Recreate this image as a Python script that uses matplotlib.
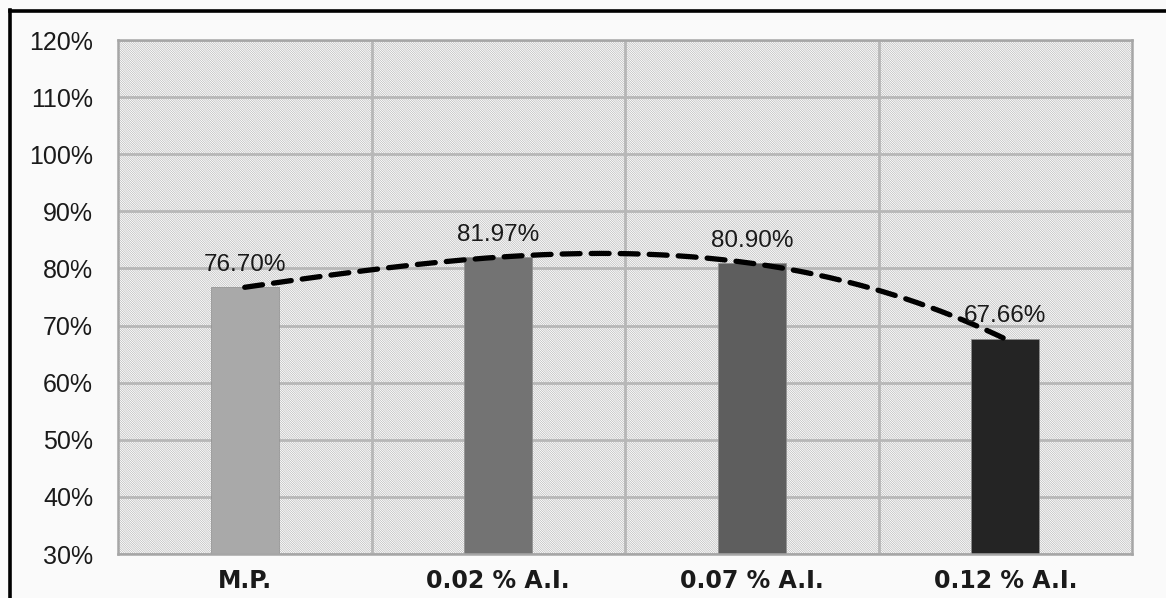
import numpy as np
import matplotlib.pyplot as plt
from matplotlib.patches import Rectangle
from matplotlib.lines import Line2D
from matplotlib.ticker import PercentFormatter

# Данные графика
categories = ["M.P.", "0.02 % A.I.", "0.07 % A.I.", "0.12 % A.I."]
values = [76.70, 81.97, 80.90, 67.66]
value_labels = ["76.70%", "81.97%", "80.90%", "67.66%"]
bar_colors = ["#a9a9a9", "#737373", "#5e5e5e", "#242424"]
y_ticks = [30, 40, 50, 60, 70, 80, 90, 100, 110, 120]

plt.rcParams['font.family'] = ['Liberation Sans', 'DejaVu Sans']
plt.rcParams['hatch.linewidth'] = 0.45

fig = plt.figure(figsize=(11.66, 5.98), dpi=100, facecolor="#fafafa")
ax = fig.add_axes([118 / 1166, 1 - 554 / 598, (1132 - 118) / 1166, (554 - 40) / 598])
ax.set_facecolor("white")

x = np.arange(len(categories))
ax.set_xlim(-0.5, len(categories) - 0.5)
ax.set_ylim(y_ticks[0], y_ticks[-1])

# штриховка фона
bg = Rectangle((0, 0), 1, 1, transform=ax.transAxes, facecolor="white",
               edgecolor="#b4b4b4", linewidth=0, hatch="\\" * 15, zorder=0)
ax.add_patch(bg)

# сетка
ax.set_yticks(y_ticks)
ax.set_xticks(x)
ax.set_xticks(x[:-1] + 0.5, minor=True)
ax.grid(axis="y", which="major", color="#b7b7b7", linewidth=2.0, zorder=1)
ax.grid(axis="x", which="minor", color="#b7b7b7", linewidth=2.0, zorder=1)
ax.set_axisbelow(True)

ax.bar(x, values, width=0.27, color=bar_colors, edgecolor="#8f8f8f",
       linewidth=0.5, zorder=2, bottom=0)

# линия тренда (полином 3-й степени, как в Excel)
coef = np.polyfit(x, values, 3)
xs = np.linspace(x[0], x[-1], 200)
ax.plot(xs, np.polyval(coef, xs), color="black", linewidth=3.8,
        linestyle=(0, (3.4, 2.1)), dash_capstyle="round", zorder=3)

for xi, v, lab in zip(x, values, value_labels):
    ax.annotate(lab, (xi, v), xytext=(0, 12), textcoords="offset points",
                ha="center", va="baseline", fontsize=17.5, color="#1a1a1a", zorder=4)

ax.yaxis.set_major_formatter(PercentFormatter(decimals=0))
ax.set_xticklabels(categories, fontsize=17, fontweight="bold", color="#1a1a1a",
                   family="DejaVu Sans")
ax.tick_params(axis="x", which="both", length=0, pad=11)
ax.tick_params(axis="y", length=0, pad=18, labelsize=18, labelcolor="#1a1a1a")

for s in ax.spines.values():
    s.set_color("#a6a6a6")
    s.set_linewidth(1.8)

# чёрная рамка
fig.add_artist(Line2D([9.5 / 1166, 9.5 / 1166], [0, 1 - 10 / 598], color="black",
                      linewidth=2.6, transform=fig.transFigure))
fig.add_artist(Line2D([9.5 / 1166, 1], [1 - 11 / 598, 1 - 11 / 598], color="black",
                      linewidth=2.6, transform=fig.transFigure))

fig.savefig("out.png", dpi=100, facecolor=fig.get_facecolor())
